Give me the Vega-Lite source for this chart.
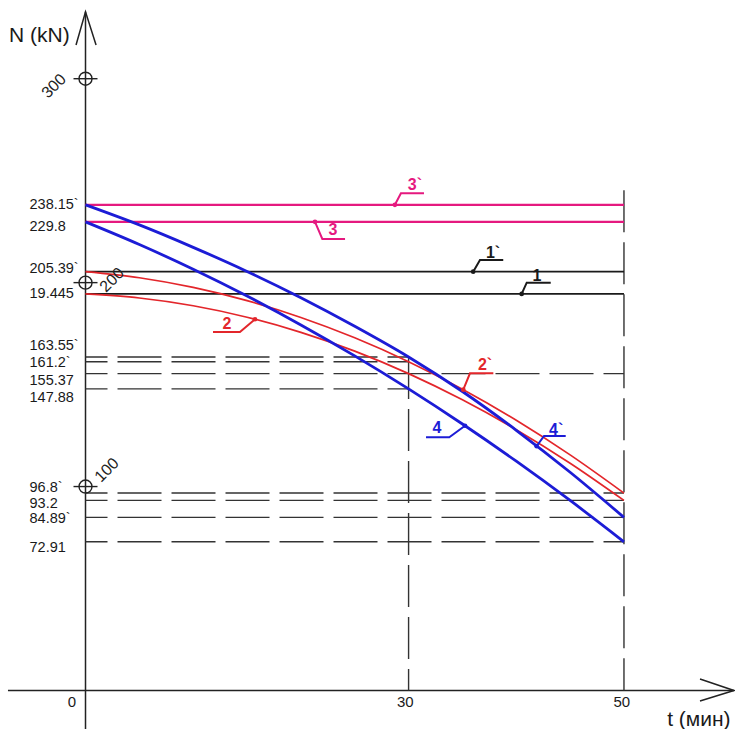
{
  "$schema": "https://vega.github.io/schema/vega-lite/v6.json",
  "width": 735,
  "height": 729,
  "autosize": {"type": "none"},
  "padding": 0,
  "background": "white",
  "config": {"view": {"stroke": null}, "font": "Liberation Sans"},
  "datasets": {
    "axes": [
      {"t": -7.2, "t2": 60.21, "N": 0, "N2": 0},
      {"t": 0, "t2": 0, "N": -19, "N2": 332.8}
    ],
    "arrows": [
      {"k": "x", "o": 0, "t": 57.06, "N": 5.64},
      {"k": "x", "o": 1, "t": 60.21, "N": 0},
      {"k": "x", "o": 2, "t": 57.06, "N": -5.15},
      {"k": "y", "o": 0, "t": -0.88, "N": 316.5},
      {"k": "y", "o": 1, "t": 0, "N": 332.8},
      {"k": "y", "o": 2, "t": 0.98, "N": 316.5}
    ],
    "hdash": [
      {"N": 163.55, "t": 0, "t2": 30},
      {"N": 161.2, "t": 0, "t2": 30},
      {"N": 155.37, "t": 0, "t2": 50},
      {"N": 147.88, "t": 0, "t2": 30},
      {"N": 96.8, "t": 0, "t2": 50},
      {"N": 93.2, "t": 0, "t2": 50},
      {"N": 84.89, "t": 0, "t2": 50},
      {"N": 72.91, "t": 0, "t2": 50}
    ],
    "vdash": [
      {"t": 30, "N": 163.55, "N2": 0},
      {"t": 50, "N": 245.3, "N2": 0}
    ],
    "lines": [
      {"s": "1`", "t": 0, "N": 205.39}, {"s": "1`", "t": 50, "N": 205.39},
      {"s": "1", "t": 0, "N": 194.45}, {"s": "1", "t": 50, "N": 194.45},
      {"s": "3`", "t": 0, "N": 238.15}, {"s": "3`", "t": 50, "N": 238.15},
      {"s": "3", "t": 0, "N": 229.8}, {"s": "3", "t": 50, "N": 229.8},
      {"s": "2`", "t": 0, "N": 205.39}, {"s": "2`", "t": 5, "N": 202.39}, {"s": "2`", "t": 10, "N": 197.65},
      {"s": "2`", "t": 15, "N": 191.16}, {"s": "2`", "t": 20, "N": 182.92}, {"s": "2`", "t": 25, "N": 172.93},
      {"s": "2`", "t": 30, "N": 161.2}, {"s": "2`", "t": 35, "N": 147.72}, {"s": "2`", "t": 40, "N": 132.49},
      {"s": "2`", "t": 45, "N": 115.52}, {"s": "2`", "t": 50, "N": 96.8},
      {"s": "2", "t": 0, "N": 194.45}, {"s": "2", "t": 5, "N": 192.45}, {"s": "2", "t": 10, "N": 188.65},
      {"s": "2", "t": 15, "N": 183.04}, {"s": "2", "t": 20, "N": 175.62}, {"s": "2", "t": 25, "N": 166.4},
      {"s": "2", "t": 30, "N": 155.37}, {"s": "2", "t": 35, "N": 142.53}, {"s": "2", "t": 40, "N": 127.89},
      {"s": "2", "t": 45, "N": 111.45}, {"s": "2", "t": 50, "N": 93.2},
      {"s": "4`", "t": 0, "N": 238.15}, {"s": "4`", "t": 5, "N": 228.3}, {"s": "4`", "t": 10, "N": 217.3},
      {"s": "4`", "t": 15, "N": 205.5}, {"s": "4`", "t": 20, "N": 192.6}, {"s": "4`", "t": 25, "N": 178.6},
      {"s": "4`", "t": 30, "N": 163.55}, {"s": "4`", "t": 35, "N": 146.6}, {"s": "4`", "t": 40, "N": 127.6},
      {"s": "4`", "t": 45, "N": 107.0}, {"s": "4`", "t": 50, "N": 84.89},
      {"s": "4", "t": 0, "N": 229.8}, {"s": "4", "t": 5, "N": 218.69}, {"s": "4", "t": 10, "N": 206.57},
      {"s": "4", "t": 15, "N": 193.42}, {"s": "4", "t": 20, "N": 179.26}, {"s": "4", "t": 25, "N": 164.08},
      {"s": "4", "t": 30, "N": 147.88}, {"s": "4", "t": 35, "N": 130.66}, {"s": "4", "t": 40, "N": 112.42},
      {"s": "4", "t": 45, "N": 93.17}, {"s": "4", "t": 50, "N": 72.91}
    ],
    "leaders": [
      {"s": "3`", "o": 0, "t": 28.73, "N": 238.15}, {"s": "3`", "o": 1, "t": 29.29, "N": 243.8}, {"s": "3`", "o": 2, "t": 31.43, "N": 243.8},
      {"s": "3", "o": 0, "t": 21.31, "N": 229.8}, {"s": "3", "o": 1, "t": 21.99, "N": 221.4}, {"s": "3", "o": 2, "t": 24.1, "N": 221.4},
      {"s": "1`", "o": 0, "t": 36.0, "N": 205.39}, {"s": "1`", "o": 1, "t": 36.63, "N": 211.1}, {"s": "1`", "o": 2, "t": 38.79, "N": 211.1},
      {"s": "1", "o": 0, "t": 40.5, "N": 194.45}, {"s": "1", "o": 1, "t": 40.97, "N": 200.0}, {"s": "1", "o": 2, "t": 43.2, "N": 200.0},
      {"s": "2", "o": 0, "t": 15.74, "N": 182.05}, {"s": "2", "o": 1, "t": 14.34, "N": 175.8}, {"s": "2", "o": 2, "t": 11.84, "N": 175.8},
      {"s": "2`", "o": 0, "t": 35.08, "N": 147.5}, {"s": "2`", "o": 1, "t": 35.7, "N": 155.5}, {"s": "2`", "o": 2, "t": 37.87, "N": 155.5},
      {"s": "4", "o": 0, "t": 35.24, "N": 129.8}, {"s": "4", "o": 1, "t": 33.78, "N": 124.2}, {"s": "4", "o": 2, "t": 31.62, "N": 124.2},
      {"s": "4`", "o": 0, "t": 41.89, "N": 119.8}, {"s": "4`", "o": 1, "t": 42.58, "N": 124.8}, {"s": "4`", "o": 2, "t": 44.59, "N": 124.8}
    ],
    "leaderText": [
      {"s": "3`", "t": 30.59, "N": 247.7},
      {"s": "3", "t": 22.98, "N": 225.9},
      {"s": "1`", "t": 37.84, "N": 214.6},
      {"s": "1", "t": 41.92, "N": 203.3},
      {"s": "2", "t": 13.14, "N": 179.7},
      {"s": "2`", "t": 37.1, "N": 159.4},
      {"s": "4", "t": 32.64, "N": 128.6},
      {"s": "4`", "t": 43.7, "N": 127.8}
    ],
    "ticks": [
      {"N": 300, "label": "300", "lt": -2.93, "lN": 296.4},
      {"N": 200, "label": "200", "lt": 2.46, "lN": 201.3},
      {"N": 100, "label": "100", "lt": 1.99, "lN": 108.1}
    ],
    "ylab": [
      {"v": "238.15`", "at": 238.1},
      {"v": "229.8", "at": 227.5},
      {"v": "205.39`", "at": 206.7},
      {"v": "19.445", "at": 194.5},
      {"v": "163.55`", "at": 169.0},
      {"v": "161.2`", "at": 160.6},
      {"v": "155.37", "at": 151.8},
      {"v": "147.88", "at": 143.5},
      {"v": "96.8`", "at": 99.2},
      {"v": "93.2", "at": 91.6},
      {"v": "84.89`", "at": 84.0},
      {"v": "72.91", "at": 69.9}
    ],
    "xlab": [
      {"v": "0", "t": -1.25, "N": -5.9},
      {"v": "30", "t": 29.7, "N": -5.9},
      {"v": "50", "t": 49.8, "N": -5.9}
    ]
  },
  "layer": [
    {
      "data": {"name": "axes"},
      "mark": {"type": "rule", "color": "#222222", "strokeWidth": 1.5},
      "encoding": {
        "x": {"field": "t", "type": "quantitative", "scale": {"domain": [-7.94, 60.31], "nice": false, "zero": false}, "axis": null},
        "x2": {"field": "t2"},
        "y": {"field": "N", "type": "quantitative", "scale": {"domain": [-18.9, 338.6], "nice": false, "zero": false}, "axis": null},
        "y2": {"field": "N2"}
      }
    },
    {
      "data": {"name": "arrows"},
      "mark": {"type": "line", "color": "#222222", "strokeWidth": 1.5},
      "encoding": {
        "x": {"field": "t", "type": "quantitative", "scale": {"domain": [-7.94, 60.31], "nice": false, "zero": false}, "axis": null},
        "y": {"field": "N", "type": "quantitative", "scale": {"domain": [-18.9, 338.6], "nice": false, "zero": false}, "axis": null},
        "detail": {"field": "k"},
        "order": {"field": "o"}
      }
    },
    {
      "data": {"name": "hdash"},
      "mark": {"type": "rule", "color": "#333333", "strokeWidth": 1.4, "strokeDash": [44, 10], "strokeDashOffset": 22},
      "encoding": {
        "x": {"field": "t", "type": "quantitative", "scale": {"domain": [-7.94, 60.31], "nice": false, "zero": false}, "axis": null},
        "x2": {"field": "t2"},
        "y": {"field": "N", "type": "quantitative", "scale": {"domain": [-18.9, 338.6], "nice": false, "zero": false}, "axis": null}
      }
    },
    {
      "data": {"name": "vdash"},
      "mark": {"type": "rule", "color": "#333333", "strokeWidth": 1.4, "strokeDash": [42, 10]},
      "encoding": {
        "x": {"field": "t", "type": "quantitative", "scale": {"domain": [-7.94, 60.31], "nice": false, "zero": false}, "axis": null},
        "y": {"field": "N", "type": "quantitative", "scale": {"domain": [-18.9, 338.6], "nice": false, "zero": false}, "axis": null},
        "y2": {"field": "N2"}
      }
    },
    {
      "data": {"name": "lines"},
      "transform": [{"filter": {"field": "s", "oneOf": ["1", "1`"]}}],
      "mark": {"type": "line", "color": "#1a1a1a", "strokeWidth": 1.7},
      "encoding": {
        "x": {"field": "t", "type": "quantitative", "scale": {"domain": [-7.94, 60.31], "nice": false, "zero": false}, "axis": null},
        "y": {"field": "N", "type": "quantitative", "scale": {"domain": [-18.9, 338.6], "nice": false, "zero": false}, "axis": null},
        "detail": {"field": "s"}
      }
    },
    {
      "data": {"name": "lines"},
      "transform": [{"filter": {"field": "s", "oneOf": ["3", "3`"]}}],
      "mark": {"type": "line", "color": "#e5197f", "strokeWidth": 2.4},
      "encoding": {
        "x": {"field": "t", "type": "quantitative", "scale": {"domain": [-7.94, 60.31], "nice": false, "zero": false}, "axis": null},
        "y": {"field": "N", "type": "quantitative", "scale": {"domain": [-18.9, 338.6], "nice": false, "zero": false}, "axis": null},
        "detail": {"field": "s"}
      }
    },
    {
      "data": {"name": "lines"},
      "transform": [{"filter": {"field": "s", "oneOf": ["2", "2`"]}}],
      "mark": {"type": "line", "color": "#e3262b", "strokeWidth": 1.7, "interpolate": "monotone"},
      "encoding": {
        "x": {"field": "t", "type": "quantitative", "scale": {"domain": [-7.94, 60.31], "nice": false, "zero": false}, "axis": null},
        "y": {"field": "N", "type": "quantitative", "scale": {"domain": [-18.9, 338.6], "nice": false, "zero": false}, "axis": null},
        "detail": {"field": "s"}
      }
    },
    {
      "data": {"name": "lines"},
      "transform": [{"filter": {"field": "s", "oneOf": ["4", "4`"]}}],
      "mark": {"type": "line", "color": "#1c1cd6", "strokeWidth": 2.8, "interpolate": "monotone"},
      "encoding": {
        "x": {"field": "t", "type": "quantitative", "scale": {"domain": [-7.94, 60.31], "nice": false, "zero": false}, "axis": null},
        "y": {"field": "N", "type": "quantitative", "scale": {"domain": [-18.9, 338.6], "nice": false, "zero": false}, "axis": null},
        "detail": {"field": "s"}
      }
    },
    {
      "data": {"name": "leaders"},
      "mark": {"type": "line", "strokeWidth": 2},
      "encoding": {
        "x": {"field": "t", "type": "quantitative", "scale": {"domain": [-7.94, 60.31], "nice": false, "zero": false}, "axis": null},
        "y": {"field": "N", "type": "quantitative", "scale": {"domain": [-18.9, 338.6], "nice": false, "zero": false}, "axis": null},
        "color": {"field": "s", "type": "nominal", "legend": null, "scale": {"domain": ["1", "1`", "2", "2`", "3", "3`", "4", "4`"], "range": ["#1a1a1a", "#1a1a1a", "#e3262b", "#e3262b", "#e5197f", "#e5197f", "#1c1cd6", "#1c1cd6"]}},
        "order": {"field": "o"}
      }
    },
    {
      "data": {"name": "leaders"},
      "transform": [{"filter": "datum.o == 0"}],
      "mark": {"type": "point", "filled": true, "opacity": 1, "size": 22, "shape": "circle"},
      "encoding": {
        "x": {"field": "t", "type": "quantitative", "scale": {"domain": [-7.94, 60.31], "nice": false, "zero": false}, "axis": null},
        "y": {"field": "N", "type": "quantitative", "scale": {"domain": [-18.9, 338.6], "nice": false, "zero": false}, "axis": null},
        "color": {"field": "s", "type": "nominal", "legend": null, "scale": {"domain": ["1", "1`", "2", "2`", "3", "3`", "4", "4`"], "range": ["#1a1a1a", "#1a1a1a", "#e3262b", "#e3262b", "#e5197f", "#e5197f", "#1c1cd6", "#1c1cd6"]}}
      }
    },
    {
      "data": {"name": "leaderText"},
      "mark": {"type": "text", "fontSize": 16, "fontWeight": "bold", "align": "center", "baseline": "middle"},
      "encoding": {
        "x": {"field": "t", "type": "quantitative", "scale": {"domain": [-7.94, 60.31], "nice": false, "zero": false}, "axis": null},
        "y": {"field": "N", "type": "quantitative", "scale": {"domain": [-18.9, 338.6], "nice": false, "zero": false}, "axis": null},
        "text": {"field": "s"},
        "color": {"field": "s", "type": "nominal", "legend": null, "scale": {"domain": ["1", "1`", "2", "2`", "3", "3`", "4", "4`"], "range": ["#1a1a1a", "#1a1a1a", "#e3262b", "#e3262b", "#e5197f", "#e5197f", "#1c1cd6", "#1c1cd6"]}}
      }
    },
    {
      "data": {"name": "ticks"},
      "mark": {"type": "point", "shape": "circle", "filled": false, "size": 169, "stroke": "#222222", "strokeWidth": 1.4, "opacity": 1},
      "encoding": {
        "x": {"datum": 0, "type": "quantitative", "scale": {"domain": [-7.94, 60.31], "nice": false, "zero": false}, "axis": null},
        "y": {"field": "N", "type": "quantitative", "scale": {"domain": [-18.9, 338.6], "nice": false, "zero": false}, "axis": null}
      }
    },
    {
      "data": {"name": "ticks"},
      "mark": {"type": "point", "shape": "stroke", "filled": false, "size": 576, "stroke": "#222222", "strokeWidth": 1.4, "opacity": 1},
      "encoding": {
        "x": {"datum": 0, "type": "quantitative", "scale": {"domain": [-7.94, 60.31], "nice": false, "zero": false}, "axis": null},
        "y": {"field": "N", "type": "quantitative", "scale": {"domain": [-18.9, 338.6], "nice": false, "zero": false}, "axis": null}
      }
    },
    {
      "data": {"name": "ticks"},
      "mark": {"type": "text", "fontSize": 16, "angle": 315, "align": "center", "baseline": "middle", "color": "#222222"},
      "encoding": {
        "x": {"field": "lt", "type": "quantitative", "scale": {"domain": [-7.94, 60.31], "nice": false, "zero": false}, "axis": null},
        "y": {"field": "lN", "type": "quantitative", "scale": {"domain": [-18.9, 338.6], "nice": false, "zero": false}, "axis": null},
        "text": {"field": "label"}
      }
    },
    {
      "data": {"name": "ylab"},
      "mark": {"type": "text", "fontSize": 14.5, "align": "left", "baseline": "middle", "color": "#1a1a1a"},
      "encoding": {
        "x": {"datum": -5.2, "type": "quantitative", "scale": {"domain": [-7.94, 60.31], "nice": false, "zero": false}, "axis": null},
        "y": {"field": "at", "type": "quantitative", "scale": {"domain": [-18.9, 338.6], "nice": false, "zero": false}, "axis": null},
        "text": {"field": "v"}
      }
    },
    {
      "data": {"name": "xlab"},
      "mark": {"type": "text", "fontSize": 15, "align": "center", "baseline": "middle", "color": "#1a1a1a"},
      "encoding": {
        "x": {"field": "t", "type": "quantitative", "scale": {"domain": [-7.94, 60.31], "nice": false, "zero": false}, "axis": null},
        "y": {"field": "N", "type": "quantitative", "scale": {"domain": [-18.9, 338.6], "nice": false, "zero": false}, "axis": null},
        "text": {"field": "v"}
      }
    },
    {
      "data": {"values": [{"v": "N (kN)"}]},
      "mark": {"type": "text", "fontSize": 21, "align": "left", "baseline": "middle", "color": "#1a1a1a"},
      "encoding": {
        "x": {"datum": -7.1, "type": "quantitative", "scale": {"domain": [-7.94, 60.31], "nice": false, "zero": false}, "axis": null},
        "y": {"datum": 321.0, "type": "quantitative", "scale": {"domain": [-18.9, 338.6], "nice": false, "zero": false}, "axis": null},
        "text": {"field": "v"}
      }
    },
    {
      "data": {"values": [{"v": "t (мин)"}]},
      "mark": {"type": "text", "fontSize": 21, "align": "right", "baseline": "middle", "color": "#1a1a1a"},
      "encoding": {
        "x": {"datum": 59.9, "type": "quantitative", "scale": {"domain": [-7.94, 60.31], "nice": false, "zero": false}, "axis": null},
        "y": {"datum": -14.3, "type": "quantitative", "scale": {"domain": [-18.9, 338.6], "nice": false, "zero": false}, "axis": null},
        "text": {"field": "v"}
      }
    }
  ]
}
